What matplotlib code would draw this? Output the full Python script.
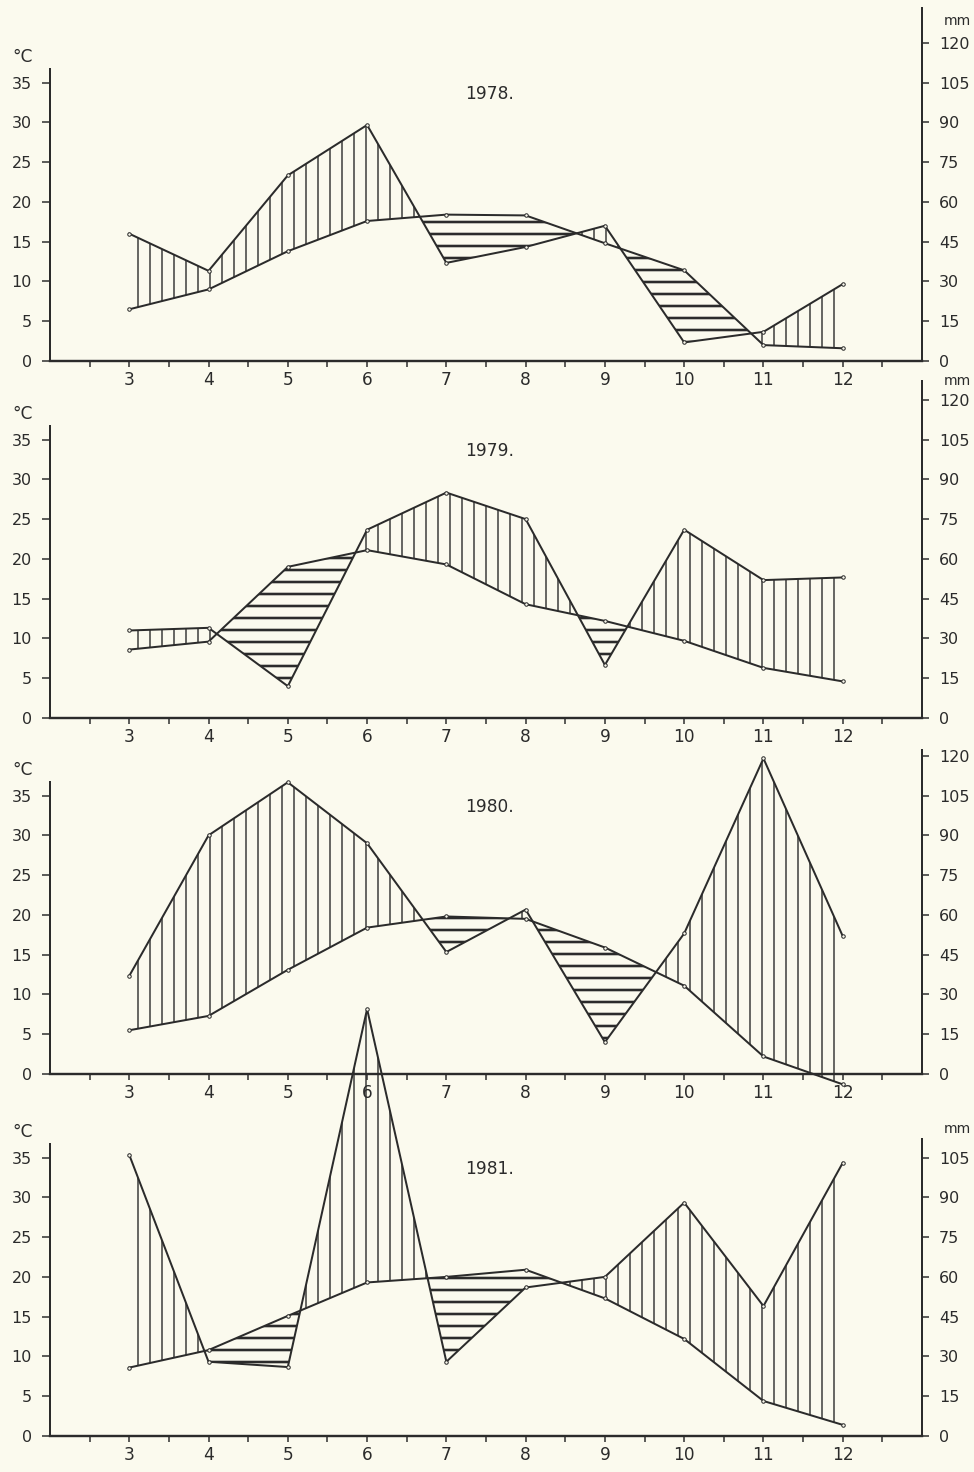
import matplotlib.pyplot as plt
import numpy as np

# mjeseci (3 = ozujak ... 12 = prosinac)
months = [3, 4, 5, 6, 7, 8, 9, 10, 11, 12]
years = ['1978.', '1979.', '1980.', '1981.']

# srednja mjesecna temperatura, °C
temp_1978 = [6.5, 9.0, 13.8, 17.6, 18.4, 18.3, 14.8, 11.4, 2.0, 1.6]
temp_1979 = [8.6, 9.6, 19.0, 21.1, 19.3, 14.3, 12.2, 9.7, 6.3, 4.6]
temp_1980 = [5.5, 7.3, 13.1, 18.4, 19.8, 19.5, 15.9, 11.1, 2.2, -1.3]
temp_1981 = [8.6, 10.8, 15.1, 19.3, 20.0, 20.9, 17.3, 12.2, 4.4, 1.4]

# oborine, mm (skala 3 mm = 1 °C)
rain_1978 = [48, 34, 70, 89, 37, 43, 51, 7, 11, 29]
rain_1979 = [33, 34, 12, 71, 85, 75, 20, 71, 52, 53]
rain_1980 = [37, 90, 110, 87, 46, 62, 12, 53, 119, 52]
rain_1981 = [106, 28, 26, 161, 28, 56, 60, 88, 49, 103]

temps = [temp_1978, temp_1979, temp_1980, temp_1981]
rains = [rain_1978, rain_1979, rain_1980, rain_1981]

# oznake na desnoj osi
mm_ticks = [list(range(0, 121, 15)), list(range(0, 121, 15)),
            list(range(0, 121, 15)), list(range(0, 106, 15))]
mm_top = [133, 127, 122, 112]
# visina natpisa "mm" (u °C), None = bez natpisa
mm_y = [42.8, 42.3, None, 38.6]

ink = '#2b2b2b'
paper = '#fbfaee'

plt.rcParams['font.family'] = ['Liberation Sans Narrow', 'DejaVu Sans']
plt.rcParams['hatch.linewidth'] = 1.4

fig = plt.figure(figsize=(974 / 72, 1472 / 72), dpi=72, facecolor=paper)

# polozaj nule svake slike (piksela od vrha)
zero_px = [361, 718, 1074, 1436]

for k in range(4):
    bottom = (1472 - zero_px[k]) / 1472
    ax = fig.add_axes([50 / 974, bottom, 872 / 974, 358 / 1472])
    ax.set_facecolor('none')
    ax.set_xlim(2, 13)
    ax.set_ylim(0, 45)

    x = np.array(months, dtype=float)
    t = np.array(temps[k])
    p = np.array(rains[k]) / 3.0

    # humidni period - okomite crte
    ax.fill_between(x, t, p, where=p >= t, interpolate=True,
                    facecolor='none', edgecolor=ink, linewidth=0,
                    hatch='|', clip_on=False)
    # aridni period - vodoravne crte
    with plt.rc_context({'hatch.linewidth': 2.6}):
        ax.fill_between(x, t, p, where=p < t, interpolate=True,
                        facecolor='none', edgecolor=ink, linewidth=0,
                        hatch='-', clip_on=False)

    ax.plot(x, t, color=ink, lw=2.0, marker='o', ms=3.5, mfc=paper,
            mec=ink, mew=1, clip_on=False)
    ax.plot(x, p, color=ink, lw=2.0, marker='o', ms=3.5, mfc=paper,
            mec=ink, mew=1, clip_on=False)

    ax.text(7.55, 33.6, years[k], ha='center', va='center',
            fontsize=17, color=ink)
    ax.text(1.66, 38.2, '°C', ha='center', va='center',
            fontsize=17, color=ink, clip_on=False)

    for s in ['top', 'right']:
        ax.spines[s].set_visible(False)
    ax.spines['left'].set_bounds(0, 36.7)
    ax.spines['left'].set_linewidth(2.0)
    ax.spines['bottom'].set_linewidth(2.4)
    ax.spines['left'].set_color(ink)
    ax.spines['bottom'].set_color(ink)

    ax.set_yticks(range(0, 36, 5))
    ax.set_xticks(months)
    ax.set_xticks(np.arange(2.5, 13, 0.5), minor=True)
    ax.tick_params(axis='y', direction='out', length=8, width=1.5,
                   labelsize=16, pad=10, colors=ink)
    ax.tick_params(axis='x', which='both', direction='out', length=6,
                   width=1.5, labelsize=17, pad=4, colors=ink)

    sec = ax.secondary_yaxis('right', functions=(lambda v: v * 3, lambda v: v / 3))
    sec.set_yticks(mm_ticks[k])
    sec.spines['right'].set_bounds(0, mm_top[k])
    sec.spines['right'].set_linewidth(2.0)
    sec.spines['right'].set_color(ink)
    sec.tick_params(direction='out', length=7, width=1.5, labelsize=16,
                    pad=10, colors=ink)
    if mm_y[k] is not None:
        ax.text(13.45, mm_y[k], 'mm', ha='center', va='center',
                fontsize=14, color=ink, clip_on=False)

fig.savefig('out.png', dpi=72, facecolor=paper)
